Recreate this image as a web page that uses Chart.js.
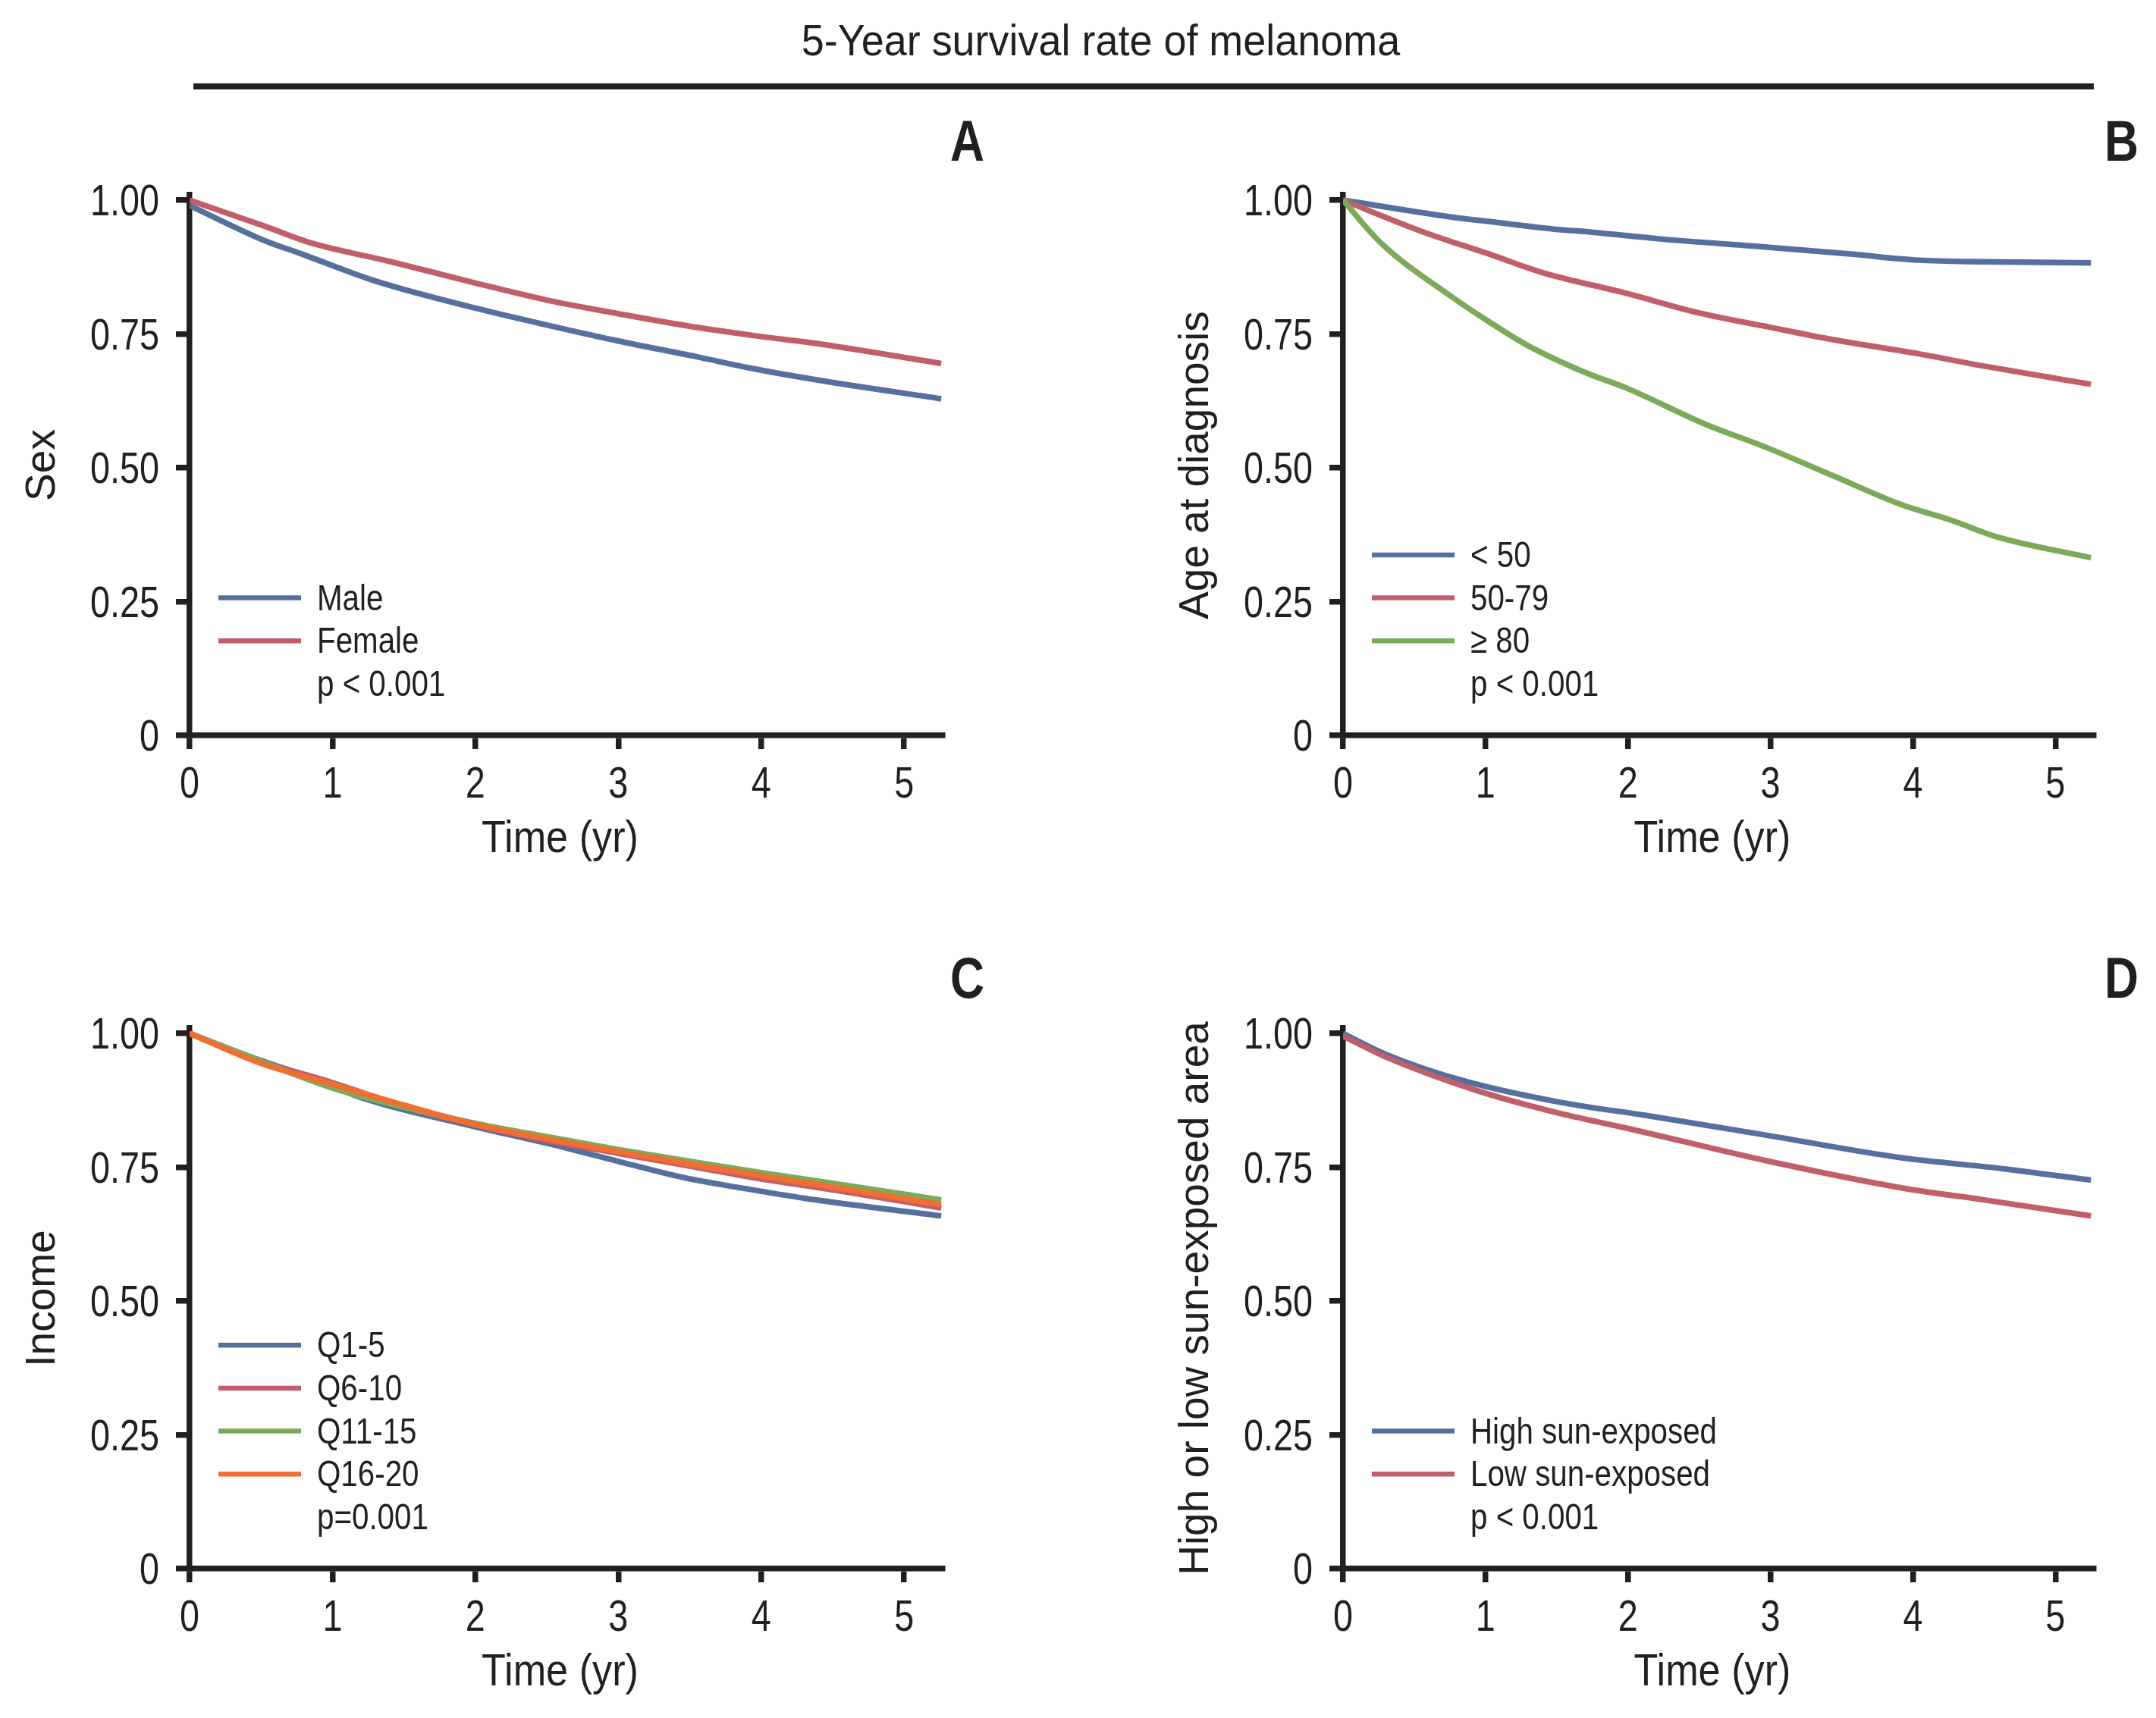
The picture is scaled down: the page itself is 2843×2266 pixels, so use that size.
<!DOCTYPE html>
<html>
<head>
<meta charset="utf-8">
<script src="https://cdn.jsdelivr.net/npm/chart.js@4.4.0/dist/chart.umd.min.js"></script>
<style>
  body { margin: 0; background: #fff; width: 2843px; height: 2266px; position: relative; overflow: hidden; }
  canvas { position: absolute; }
  .title { position: absolute; left: 0; width: 2902px; top: 24px; text-align: center; color: #231f20;
    font: 58px/58px 'Liberation Sans', Arial, sans-serif; }
  .title span { display: inline-block; transform: scaleX(0.93); }
  .rule { position: absolute; left: 255px; width: 2506px; top: 110px; height: 8px; background: #231f20; }
  .letter { position: absolute; width: 100px; text-align: right; color: #231f20;
    font: bold 76px/76px 'Liberation Sans', Arial, sans-serif; transform: scaleX(0.82); transform-origin: right center; }
</style>
</head>
<body>
<div class="title"><span>5-Year survival rate of melanoma</span></div>
<div class="rule"></div>
<div class="letter" style="left:1198px; top:148px;">A</div>
<div class="letter" style="left:2720px; top:148px;">B</div>
<div class="letter" style="left:1198px; top:1252px;">C</div>
<div class="letter" style="left:2720px; top:1252px;">D</div>

<canvas id="chartA" width="1283" height="1000" style="left:0px; top:140px;"></canvas>
<canvas id="chartB" width="1280" height="1000" style="left:1521px; top:140px;"></canvas>
<canvas id="chartC" width="1283" height="1000" style="left:0px; top:1239px;"></canvas>
<canvas id="chartD" width="1280" height="1000" style="left:1521px; top:1239px;"></canvas>

<script>
// x ticks (years) and y ticks (survival)
const xTicks = [0, 1, 2, 3, 4, 5];
const yTicks = [0, 0.25, 0.5, 0.75, 1];

// A - Sex
const maleT = [0, 0.53, 0.79, 1.30, 1.99, 2.48, 3.00, 3.54, 3.93, 4.42, 5.26];
const maleS = [0.99, 0.924, 0.899, 0.849, 0.799, 0.768, 0.737, 0.708, 0.686, 0.663, 0.629];
const femaleT = [0, 0.53, 0.84, 1.41, 1.99, 2.56, 3.00, 3.49, 3.98, 4.42, 5.26];
const femaleS = [1.0, 0.951, 0.921, 0.885, 0.846, 0.810, 0.788, 0.765, 0.746, 0.731, 0.695];

// B - Age at diagnosis
const age1T = [0, 0.75, 1.03, 1.48, 1.76, 2.21, 2.99, 3.58, 4.04, 4.50, 5.25];
const age1S = [1.0, 0.969, 0.960, 0.946, 0.940, 0.928, 0.912, 0.899, 0.888, 0.885, 0.883];
const age2T = [0, 0.57, 1.03, 1.41, 1.99, 2.49, 2.99, 3.45, 4.04, 4.50, 5.25];
const age2S = [1.0, 0.940, 0.899, 0.864, 0.826, 0.790, 0.763, 0.739, 0.713, 0.690, 0.656];
const age3T = [0, 0.27, 0.75, 1.03, 1.30, 1.71, 1.99, 2.53, 2.99, 3.45, 3.91, 4.27, 4.59, 5.25];
const age3S = [1.0, 0.919, 0.822, 0.772, 0.728, 0.677, 0.649, 0.583, 0.536, 0.484, 0.432, 0.402, 0.371, 0.332];

// C - Income
const q1T = [0, 0.44, 0.97, 1.19, 1.99, 2.56, 3.00, 3.45, 3.98, 4.33, 5.26];
const q1S = [1.0, 0.955, 0.906, 0.881, 0.826, 0.791, 0.761, 0.731, 0.706, 0.691, 0.659];
const qT = [0, 0.5, 1, 1.5, 2, 2.5, 3, 3.5, 4, 4.5, 5.26];
const q2S = [1.0, 0.948, 0.908, 0.864, 0.829, 0.800, 0.776, 0.752, 0.728, 0.708, 0.674];
const q3S = [1.0, 0.948, 0.898, 0.862, 0.832, 0.807, 0.783, 0.761, 0.740, 0.720, 0.689];
const q4S = [1.0, 0.944, 0.905, 0.866, 0.830, 0.803, 0.779, 0.756, 0.734, 0.713, 0.680];

// D - Sun exposure
const highT = [0, 0.30, 0.84, 1.53, 2.12, 2.99, 3.91, 4.64, 5.25];
const highS = [1.0, 0.961, 0.912, 0.871, 0.847, 0.809, 0.768, 0.747, 0.726];
const lowT = [0, 0.30, 0.93, 1.53, 1.99, 2.99, 3.95, 4.50, 5.25];
const lowS = [0.995, 0.956, 0.894, 0.850, 0.823, 0.761, 0.710, 0.689, 0.659];

const BLUE = '#55709f';
const RED = '#c05f69';
const GREEN = '#7bab59';
const ORANGE = '#f26d32';
const INK = '#231f20';
const SANS = "'Liberation Sans', Arial, sans-serif";

function pts(t, s) {
  return t.map((x, i) => ({x: x, y: s[i]}));
}

// no condensed font installed, so squeeze regular text horizontally
function narrowText(ctx, text, x, y, size, squeeze, align) {
  ctx.save();
  ctx.translate(x, y);
  ctx.scale(squeeze, 1);
  ctx.font = size + 'px ' + SANS;
  ctx.textAlign = align;
  ctx.textBaseline = 'alphabetic';
  ctx.fillStyle = INK;
  ctx.fillText(text, 0, 0);
  ctx.restore();
}

// tick labels, x title, legend and p value
const narrowLabels = {
  id: 'narrowLabels',
  afterDraw(chart, args, opts) {
    const ctx = chart.ctx;
    const area = chart.chartArea;
    const xs = chart.scales.x;
    const ys = chart.scales.y;

    ys.ticks.forEach(t => {
      const y = ys.getPixelForValue(t.value);
      narrowText(ctx, t.value === 0 ? '0' : t.value.toFixed(2), area.left - 40, y + 20, 57, 0.82, 'right');
    });
    xs.ticks.forEach(t => {
      const x = xs.getPixelForValue(t.value);
      narrowText(ctx, String(t.value), x, area.bottom + 82, 57, 0.82, 'center');
    });
    narrowText(ctx, 'Time (yr)', (area.left + area.right) / 2 - 8, area.bottom + 154, 60, 0.87, 'center');

    const sets = chart.data.datasets;
    const rowH = 56.7;
    const pY = area.bottom - 68;
    sets.forEach((ds, i) => {
      const y = pY - (sets.length - i) * rowH;
      ctx.save();
      ctx.beginPath();
      ctx.moveTo(area.left + 38, y);
      ctx.lineTo(area.left + 147, y);
      ctx.lineWidth = 6.5;
      ctx.strokeStyle = ds.borderColor;
      ctx.stroke();
      ctx.restore();
      narrowText(ctx, ds.label, area.left + 168, y + 16, 48, 0.84, 'left');
    });
    narrowText(ctx, opts.pText, area.left + 168, pY + 16, 48, 0.84, 'left');
  }
};

function makePanel(id, yTitle, series, pText) {
  new Chart(document.getElementById(id), {
    type: 'line',
    data: {
      datasets: series.map((s, i) => ({
        label: s.label,
        data: pts(s.t, s.s),
        borderColor: s.color,
        backgroundColor: s.color,
        borderWidth: 7.5,
        pointRadius: 0,
        fill: false,
        cubicInterpolationMode: 'monotone',
        order: series.length - i
      }))
    },
    options: {
      responsive: false,
      animation: false,
      devicePixelRatio: 1,
      layout: { padding: { top: 117, right: 40, bottom: 0, left: 0 } },
      plugins: {
        legend: { display: false },
        tooltip: { enabled: false },
        narrowLabels: { pText: pText }
      },
      scales: {
        x: {
          type: 'linear',
          min: 0,
          max: 5.27,
          afterBuildTicks: (scale) => { scale.ticks = xTicks.map(v => ({value: v})); },
          afterFit: (scale) => { scale.height = 170; },
          border: { display: true, width: 7.5, color: INK },
          grid: { drawOnChartArea: false, drawTicks: true, tickLength: 18, tickWidth: 7.5, tickColor: INK, lineWidth: 7.5, color: INK },
          ticks: { display: false }
        },
        y: {
          min: 0,
          max: 1.01,
          afterBuildTicks: (scale) => { scale.ticks = yTicks.map(v => ({value: v})); },
          afterFit: (scale) => { scale.width = 250; },
          border: { display: true, width: 7.5, color: INK },
          grid: { drawOnChartArea: false, drawTicks: true, tickLength: 18, tickWidth: 7.5, tickColor: INK, lineWidth: 7.5, color: INK },
          ticks: { display: false },
          title: { display: true, text: yTitle, color: INK, font: { family: SANS, size: 55, lineHeight: 1.2 }, padding: { top: 24, bottom: 0 } }
        }
      }
    },
    plugins: [narrowLabels]
  });
}

makePanel('chartA', 'Sex', [
  {label: 'Male', t: maleT, s: maleS, color: BLUE},
  {label: 'Female', t: femaleT, s: femaleS, color: RED}
], 'p < 0.001');

makePanel('chartB', 'Age at diagnosis', [
  {label: '< 50', t: age1T, s: age1S, color: BLUE},
  {label: '50-79', t: age2T, s: age2S, color: RED},
  {label: '\u2265 80', t: age3T, s: age3S, color: GREEN}
], 'p < 0.001');

makePanel('chartC', 'Income', [
  {label: 'Q1-5', t: q1T, s: q1S, color: BLUE},
  {label: 'Q6-10', t: qT, s: q2S, color: RED},
  {label: 'Q11-15', t: qT, s: q3S, color: GREEN},
  {label: 'Q16-20', t: qT, s: q4S, color: ORANGE}
], 'p=0.001');

makePanel('chartD', 'High or low sun-exposed area', [
  {label: 'High sun-exposed', t: highT, s: highS, color: BLUE},
  {label: 'Low sun-exposed', t: lowT, s: lowS, color: RED}
], 'p < 0.001');
</script>
</body>
</html>
